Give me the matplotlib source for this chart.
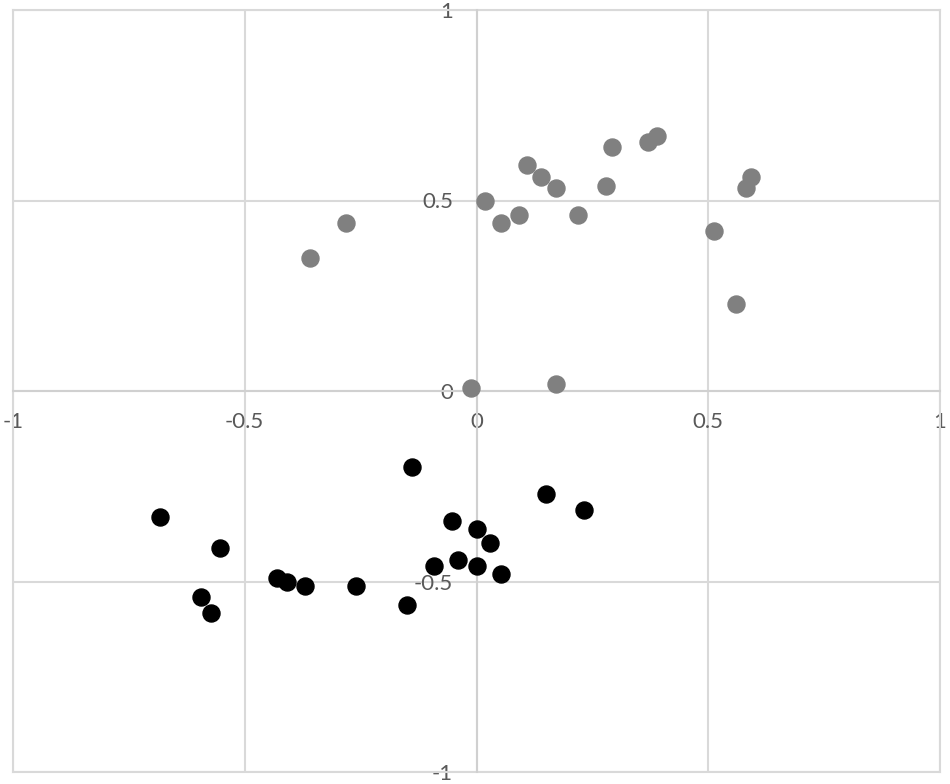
import matplotlib.pyplot as plt

plt.rcParams['font.family'] = ['Lato', 'DejaVu Sans']

# gray series
gray_x = [-0.359, -0.281, -0.011, 0.019, 0.052, 0.091, 0.110, 0.140, 0.171, 0.171,
          0.220, 0.279, 0.292, 0.371, 0.389, 0.512, 0.559, 0.581, 0.592]
gray_y = [0.349, 0.441, 0.008, 0.499, 0.441, 0.462, 0.593, 0.562, 0.533, 0.018,
          0.462, 0.538, 0.640, 0.654, 0.669, 0.420, 0.228, 0.533, 0.562]

# black series
black_x = [-0.683, -0.553, -0.594, -0.572, -0.430, -0.408, -0.369, -0.259, -0.149, -0.140,
           -0.091, -0.052, -0.039, 0.002, 0.002, 0.030, 0.052, 0.149, 0.231]
black_y = [-0.331, -0.412, -0.541, -0.583, -0.491, -0.501, -0.512, -0.512, -0.562, -0.199,
           -0.460, -0.340, -0.444, -0.363, -0.460, -0.400, -0.481, -0.270, -0.313]

ticks = [-1, -0.5, 0, 0.5, 1]
tick_labels = ['-1', '-0.5', '0', '0.5', '1']

fig = plt.figure(figsize=(9.5, 7.84), dpi=100)
ax = fig.add_axes([13 / 950, 12 / 784, 927 / 950, 762 / 784])

ax.scatter(gray_x, gray_y, s=150, color='#808080', zorder=3, clip_on=False)
ax.scatter(black_x, black_y, s=150, color='black', zorder=3, clip_on=False)

ax.set_xlim(-1, 1)
ax.set_ylim(-1, 1)
ax.set_xticks(ticks)
ax.set_xticklabels(tick_labels)
ax.set_yticks(ticks)
ax.set_yticklabels(tick_labels)

# Excel-style axes crossing at the origin
ax.spines['left'].set_position('zero')
ax.spines['bottom'].set_position('zero')
ax.spines['top'].set_visible(False)
ax.spines['right'].set_visible(False)
for s in ['left', 'bottom']:
    ax.spines[s].set_color('#d0d0d0')
    ax.spines[s].set_linewidth(1.5)

ax.grid(True, color='#d9d9d9', linewidth=1.5)
ax.set_axisbelow(True)
ax.tick_params(axis='both', length=0, labelsize=16, colors='#595959')
ax.tick_params(axis='x', pad=15)
ax.tick_params(axis='y', pad=17)

# outer gridlines at the edges
ax.axhline(1, color='#d9d9d9', linewidth=1.5, clip_on=False)
ax.axhline(-1, color='#d9d9d9', linewidth=1.5, clip_on=False)
ax.axvline(-1, color='#d9d9d9', linewidth=1.5, clip_on=False)
ax.axvline(1, color='#d9d9d9', linewidth=1.5, clip_on=False)

plt.savefig('out.png', dpi=100)
